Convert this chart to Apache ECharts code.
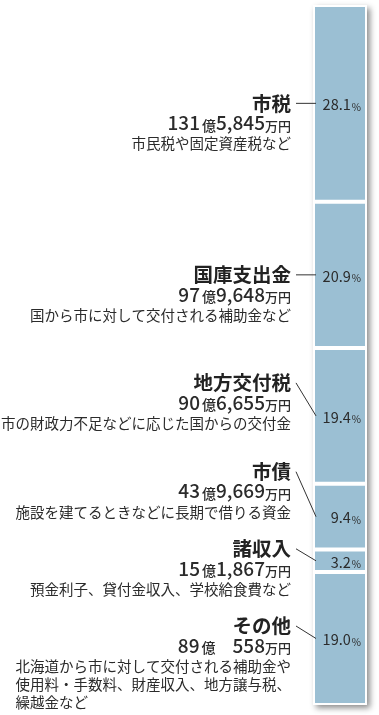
<!DOCTYPE html>
<html><head><meta charset="utf-8">
<script src="https://cdn.jsdelivr.net/npm/echarts@6/dist/echarts.min.js"></script>
<style>html,body{margin:0;padding:0;background:#fff}#c{width:379px;height:715px}</style>
</head><body><div id="c"></div>
<script>
// ---- data ----
const categories = ['市税', '国庫支出金', '地方交付税', '市債', '諸収入', 'その他'];
const percentValues = [28.1, 20.9, 19.4, 9.4, 3.2, 19.0];
const okuValues = [131, 97, 90, 43, 15, 89];
const manValues = [5845, 9648, 6655, 9669, 1867, 558];
const descriptions = [
  ['市民税や固定資産税など'],
  ['国から市に対して交付される補助金など'],
  ['市の財政力不足などに応じた国からの交付金'],
  ['施設を建てるときなどに長期で借りる資金'],
  ['預金利子、貸付金収入、学校給食費など'],
  ['北海道から市に対して交付される補助金や', '使用料・手数料、財産収入、地方譲与税、', '繰越金など']
];
const totalValue = [100];

// ---- layout (positions of annotation names relative to segment centers, px) ----
const nameOffsets = [0, 0, -33, -45, -12, -12.5];

const FONT = '"Noto Sans CJK JP", "Noto Sans", sans-serif';
const BAR_COLOR = '#9BBFD3';
const TEXT_COLOR = '#2b2b2b';
const DESC_SIZE = 14.5;

const starts = [], ends = [];
let acc = 0;
percentValues.forEach(v => { starts.push(acc); acc += v; ends.push(acc); });

const measureCtx = document.createElement('canvas').getContext('2d');
function textWidth(t, size) {
  measureCtx.font = size + 'px ' + FONT;
  return measureCtx.measureText(t).width;
}
function fmtMan(m) {
  return m >= 1000 ? m.toLocaleString('en-US') : String(m);
}

const chart = echarts.init(document.getElementById('c'), null, {renderer: 'canvas'});

const barSeries = categories.map((name, i) => ({
  type: 'bar',
  name: name,
  stack: 'total',
  xAxisIndex: 0,
  yAxisIndex: 0,
  barWidth: '100%',
  z: 3,
  data: [percentValues[i]],
  itemStyle: {color: BAR_COLOR, borderColor: '#ffffff', borderWidth: 2},
  label: {
    show: true,
    position: 'insideRight',
    distance: 6,
    formatter: p => '{n|' + p.value.toFixed(1) + '}{p|%}',
    rich: {
      n: {fontSize: 14.5, color: '#2b2b2b', fontFamily: FONT, verticalAlign: 'bottom', lineHeight: 17},
      p: {fontSize: 10, color: '#2b2b2b', fontFamily: FONT, verticalAlign: 'bottom', lineHeight: 14.5, padding: [0, 0, 0, 1]}
    }
  },
  emphasis: {disabled: true}
}));

const annotationSeries = {
  type: 'custom',
  xAxisIndex: 0,
  yAxisIndex: 0,
  z: 10,
  silent: true,
  clip: false,
  data: categories.map((c, i) => [0, starts[i], ends[i], i]),
  encode: {x: 0, y: [1, 2]},
  renderItem: function (params, api) {
    const i = api.value(3);
    const mid = api.coord([0, (api.value(1) + api.value(2)) / 2]);
    const bandW = api.size([1, 0])[0];
    const barLeft = mid[0] - bandW / 2;
    const tx = barLeft - 22;
    const ny = mid[1] + nameOffsets[i];
    const children = [];
    children.push({
      type: 'line',
      shape: {x1: barLeft - 17, y1: ny, x2: barLeft + 3, y2: mid[1]},
      style: {stroke: '#333', lineWidth: 1}
    });
    children.push({
      type: 'text', x: tx, y: ny,
      style: {text: categories[i], fontSize: 19.5, fontWeight: 'bold', fontFamily: FONT, fill: '#222', align: 'right', verticalAlign: 'middle'}
    });
    const man = manValues[i];
    const amountText = '{n|' + okuValues[i] + '}{u|億}' + (man < 1000 ? '{g| }' : '') + '{n|' + fmtMan(man) + '}{m|万円}';
    children.push({
      type: 'text', x: tx, y: ny + 18,
      style: {
        text: amountText, align: 'right', verticalAlign: 'middle', fill: TEXT_COLOR, fontFamily: FONT,
        rich: {
          n: {fontSize: 19, fontWeight: 500, fontFamily: FONT, fill: TEXT_COLOR, verticalAlign: 'bottom', lineHeight: 22},
          u: {fontSize: 14, fontWeight: 500, fontFamily: FONT, fill: TEXT_COLOR, verticalAlign: 'bottom', lineHeight: 19, padding: [0, 0, 0, 2]},
          m: {fontSize: 13, fontWeight: 500, fontFamily: FONT, fill: TEXT_COLOR, verticalAlign: 'bottom', lineHeight: 18},
          g: {width: 17, fontSize: 14, lineHeight: 19, verticalAlign: 'bottom'}
        }
      }
    });
    const lines = descriptions[i];
    if (lines.length === 1) {
      children.push({
        type: 'text', x: tx, y: ny + 40.5,
        style: {text: lines[0], fontSize: DESC_SIZE, fontFamily: FONT, fill: TEXT_COLOR, align: 'right', verticalAlign: 'middle'}
      });
    } else {
      const maxW = Math.max.apply(null, lines.map(l => textWidth(l, DESC_SIZE)));
      lines.forEach((l, k) => {
        children.push({
          type: 'text', x: tx - maxW, y: ny + 40.5 + k * 17.8,
          style: {text: l, fontSize: DESC_SIZE, fontFamily: FONT, fill: TEXT_COLOR, align: 'left', verticalAlign: 'middle'}
        });
      });
    }
    return {type: 'group', children: children};
  }
};

const backgroundSeries = {
  type: 'bar',
  xAxisIndex: 1,
  yAxisIndex: 0,
  barWidth: 58,
  z: 1,
  silent: true,
  data: totalValue,
  itemStyle: {color: '#ffffff', shadowColor: 'rgba(0,0,0,0.45)', shadowBlur: 6, shadowOffsetX: 3, shadowOffsetY: 3},
  label: {show: false},
  emphasis: {disabled: true}
};

chart.setOption({
  animation: false,
  backgroundColor: '#ffffff',
  textStyle: {fontFamily: FONT},
  grid: {left: 313, width: 54, top: 5, height: 700},
  xAxis: [
    {type: 'category', data: ['歳入'], show: false},
    {type: 'category', data: ['歳入'], show: false}
  ],
  yAxis: {type: 'value', inverse: true, min: 0, max: 100, show: false},
  tooltip: {show: false},
  series: [backgroundSeries].concat(barSeries, [annotationSeries])
});
</script>
</body></html>
